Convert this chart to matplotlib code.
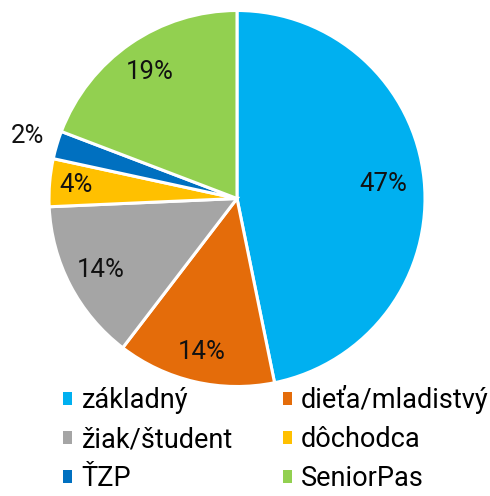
import numpy as np
import matplotlib.pyplot as plt
from matplotlib.patches import Patch

plt.rcParams['font.family'] = ['Roboto', 'DejaVu Sans']

# data (shares in %, labels are rounded)
categories = ['základný', 'dieťa/mladistvý', 'žiak/študent', 'dôchodca', 'ŤZP', 'SeniorPas']
shares = [46.8, 13.6, 13.9, 4.1, 2.4, 19.2]
colors = ['#00B0F0', '#E46C0A', '#A5A5A5', '#FFC000', '#0070C0', '#92D050']
label_r = [0.78, 0.84, 0.82, 0.86, 1.16, 0.82]

fig = plt.figure(figsize=(4.9, 4.96), dpi=100)
ax = fig.add_axes([49/490, 1 - 386.5/496, 376/490, 376/496])

wedges, _ = ax.pie(shares, colors=colors, startangle=90, counterclock=False,
                   radius=1, wedgeprops=dict(edgecolor='white', linewidth=2.2))

for w, v, r in zip(wedges, shares, label_r):
    mid = np.deg2rad((w.theta1 + w.theta2) / 2)
    ax.text(r * np.cos(mid), r * np.sin(mid), '%d%%' % round(v),
            ha='center', va='center', fontsize=18.5, color='#111111')

ax.set_xlim(-1, 1)
ax.set_ylim(-1, 1)
ax.set_aspect('equal')
ax.axis('off')

# legend is filled column by column, so reorder to read row by row
order = [0, 2, 4, 1, 3, 5]
handles = [Patch(facecolor=colors[i]) for i in order]
labels = [categories[i] for i in order]
leg = fig.legend(handles, labels, ncol=2, loc='upper left',
                 bbox_to_anchor=(63/490, 1 - 385/496), frameon=False,
                 fontsize=19.5, handlelength=0.34, handleheight=0.34,
                 handletextpad=0.34, columnspacing=1.85, labelspacing=0.45,
                 borderpad=0, borderaxespad=0)

fig.savefig('out.png', dpi=100)
